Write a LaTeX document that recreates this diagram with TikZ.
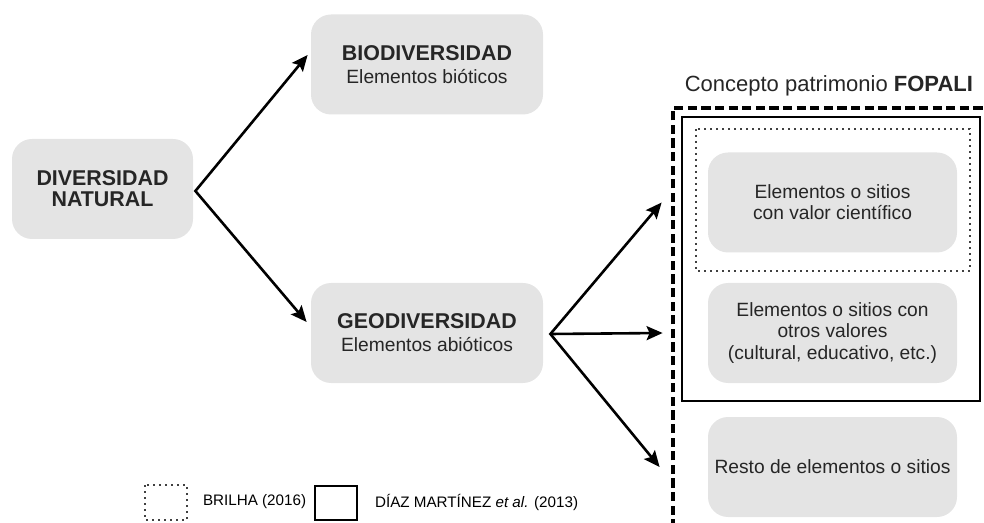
\documentclass[tikz,border=0pt]{standalone}
\usepackage{fontspec}
\setmainfont{Liberation Sans}
\usetikzlibrary{arrows.meta,calc}
\definecolor{boxgray}{RGB}{228,228,228}
\newcommand{\hd}{\fontsize{10.7}{11.5}\selectfont\bfseries}
\begin{document}
\begin{tikzpicture}[x=0.5pt,y=-0.5pt,
  box/.style={fill=boxgray,rounded corners=10pt,align=center,inner sep=0pt,minimum width=124.5pt,minimum height=50pt,text=black!85,font=\fontsize{9.6}{10.6}\selectfont},
  arrowtip/.tip={Stealth[length=8pt,width=7pt,inset=1.5pt]},
  arr/.style={line width=1.3pt,line join=miter},
  dots/.style={line width=0.9pt,black!75,dash pattern=on 0.9pt off 2.1pt},
  dashbox/.style={line width=1.8pt,dash pattern=on 4.6pt off 2.2pt}]
\useasboundingbox (0,0) rectangle (984,523);
\clip (0,0) rectangle (984,523);
\node[box,minimum width=90.5pt] (dn) at (102.5,189) {\hd DIVERSIDAD\\\hd NATURAL};
\node[box,minimum width=116pt] (bio) at (427,64.5) {{\hd BIODIVERSIDAD}\\[0.9pt]Elementos bióticos};
\node[box,minimum width=116pt] (geo) at (427,333) {{\hd GEODIVERSIDAD}\\[0.9pt]Elementos abióticos};
\draw[dashbox] (1010,545)--(673,545)--(673,108)--(1010,108);
\draw[line width=0.8pt] (682,117) rectangle (980,401);
\draw[dots] (696,129) rectangle (970,271);
\node[anchor=east,font=\fontsize{11}{13}\selectfont,text=black!85] (tit) at (980,86) {Concepto patrimonio \textbf{FOPALI}};
\node[box] (sci) at (832.5,202.5) {Elementos o sitios\\con valor científico};
\node[box] (otr) at (832.5,333) {Elementos o sitios con\\otros valores\\(cultural, educativo, etc.)};
\node[box] (res) at (832.5,467) {Resto de elementos o sitios};
\coordinate (v1) at ($(dn.east)+(2,2)$);
\coordinate (v2) at ($(geo.east)+(7,1)$);
\draw[arr,arrowtip-arrowtip] ($(bio.west)+(-3,-9.5)$)--(v1)--($(geo.west)+(-4,-11)$);
\draw[arr,arrowtip-arrowtip] ($(sci.west)+(-46,0)$)--(v2)--($(res.west)+(-48,0)$);
\draw[arr,-arrowtip] (v2)--($(otr.west)+(-45,0)$);
\draw[dots] (145,485) rectangle (187,520);
\node[anchor=west,font=\fontsize{7.6}{9}\selectfont] (bri) at (196,502) {BRILHA (2016)};
\draw[line width=0.8pt] (315,486) rectangle (357,520);
\node[anchor=west,font=\fontsize{7.6}{9}\selectfont] (dia) at (368,502) {DÍAZ MARTÍNEZ \textit{et al.} (2013)};
\end{tikzpicture}
\end{document}
